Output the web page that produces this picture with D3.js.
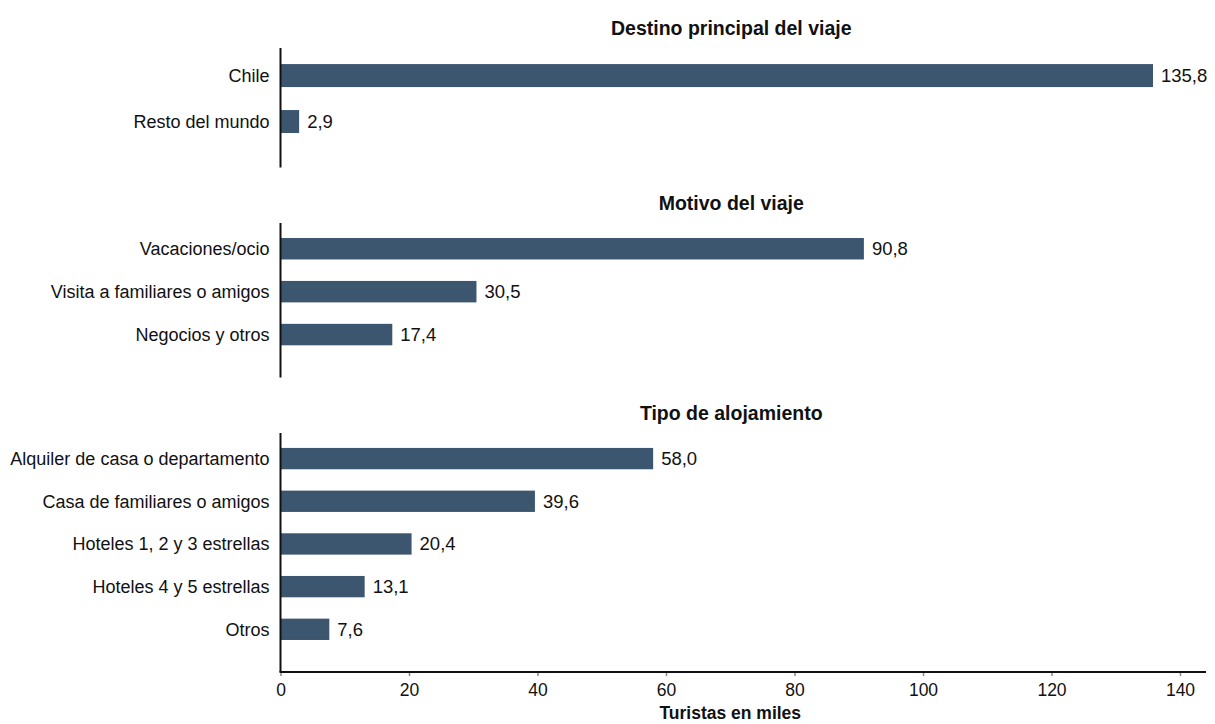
<!DOCTYPE html>
<html>
<head>
<meta charset="utf-8">
<script src="https://cdn.jsdelivr.net/npm/d3@7"></script>
<style>
  html, body { margin: 0; padding: 0; background: #fff; }
  svg { display: block; }
  text { font-family: "Liberation Sans", Arial, Helvetica, sans-serif; fill: #111; }
</style>
</head>
<body>
<svg id="chart" width="1215" height="724"></svg>
<script>
// ---- Data ----
const panelTitles = ["Destino principal del viaje", "Motivo del viaje", "Tipo de alojamiento"];
const destinoCategories = ["Chile", "Resto del mundo"];
const destinoValues = [135.8, 2.9];
const motivoCategories = ["Vacaciones/ocio", "Visita a familiares o amigos", "Negocios y otros"];
const motivoValues = [90.8, 30.5, 17.4];
const alojamientoCategories = ["Alquiler de casa o departamento", "Casa de familiares o amigos", "Hoteles 1, 2 y 3 estrellas", "Hoteles 4 y 5 estrellas", "Otros"];
const alojamientoValues = [58.0, 39.6, 20.4, 13.1, 7.6];
const xTicks = [0, 20, 40, 60, 80, 100, 120, 140];
const xAxisTitle = "Turistas en miles";

// ---- Layout ----
const barColor = "#3d5670";
const x0 = 280.5, x140 = 1180;
const panelRanges = [[48, 167.5], [223, 377.5], [433, 672]];

const svg = d3.select("#chart");
const x = d3.scaleLinear().domain([0, 140]).range([x0, x140]);
const fmt = v => d3.format(".1f")(v).replace(".", ",");

const panels = [
  { title: panelTitles[0], cats: destinoCategories, vals: destinoValues },
  { title: panelTitles[1], cats: motivoCategories, vals: motivoValues },
  { title: panelTitles[2], cats: alojamientoCategories, vals: alojamientoValues }
];

panels.forEach((p, i) => {
  const [top, bottom] = panelRanges[i];
  const y = d3.scaleBand()
    .domain(p.cats)
    .range([top, bottom])
    .paddingInner(0.5)
    .paddingOuter(0.55)
    .align(0.318);

  const g = svg.append("g");

  g.append("text")
    .attr("x", (x0 + x140) / 2 + 1)
    .attr("y", top - 13.5)
    .attr("text-anchor", "middle")
    .attr("font-weight", "bold")
    .attr("font-size", "19.5px")
    .text(p.title);

  const data = p.cats.map((c, k) => ({ c, v: p.vals[k] }));

  g.selectAll("rect.bar").data(data).join("rect")
    .attr("class", "bar")
    .attr("x", x(0))
    .attr("y", d => y(d.c))
    .attr("width", d => x(d.v) - x(0))
    .attr("height", y.bandwidth())
    .attr("fill", barColor);

  g.selectAll("text.val").data(data).join("text")
    .attr("class", "val")
    .attr("x", d => x(d.v) + 8)
    .attr("y", d => y(d.c) + y.bandwidth() / 2)
    .attr("dy", "0.35em")
    .attr("font-size", "18.5px")
    .text(d => fmt(d.v));

  g.selectAll("text.cat").data(data).join("text")
    .attr("class", "cat")
    .attr("x", x0 - 11)
    .attr("y", d => y(d.c) + y.bandwidth() / 2)
    .attr("dy", "0.35em")
    .attr("text-anchor", "end")
    .attr("font-size", "18px")
    .text(d => d.c);

  g.append("line")
    .attr("x1", x0).attr("x2", x0)
    .attr("y1", top).attr("y2", bottom)
    .attr("stroke", "#111").attr("stroke-width", 2);
});

const axisY = panelRanges[2][1];
const xAxis = d3.axisBottom(x).tickValues(xTicks).tickSize(4).tickPadding(8).tickFormat(d3.format("d"));
const ax = svg.append("g").attr("transform", `translate(0,${axisY})`).call(xAxis);
ax.select(".domain").remove();
ax.selectAll(".tick line").attr("stroke", "#888").attr("stroke-width", 1.5);
ax.selectAll(".tick text").attr("font-size", "17.5px").attr("fill", "#111")
  .attr("font-family", "'Liberation Sans', Arial, Helvetica, sans-serif");
svg.append("line")
  .attr("x1", x0 - 1).attr("x2", 1206)
  .attr("y1", axisY).attr("y2", axisY)
  .attr("stroke", "#111").attr("stroke-width", 2);

svg.append("text")
  .attr("x", (x0 + x140) / 2)
  .attr("y", 719)
  .attr("text-anchor", "middle")
  .attr("font-weight", "bold")
  .attr("font-size", "17.5px")
  .text(xAxisTitle);
</script>
</body>
</html>
